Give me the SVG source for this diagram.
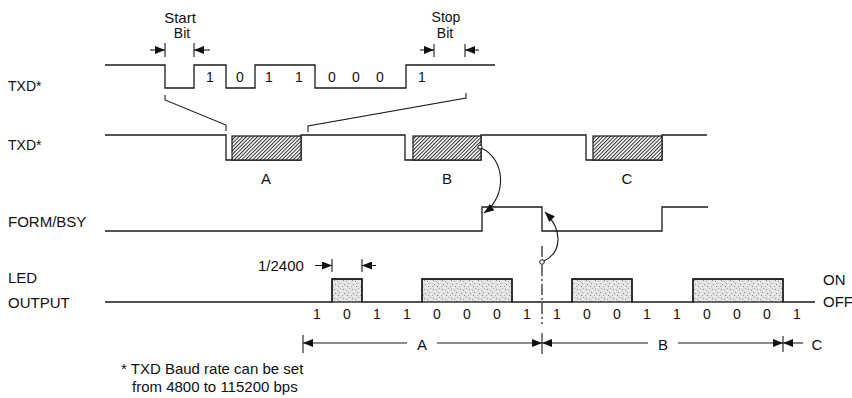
<svg xmlns="http://www.w3.org/2000/svg" width="852" height="398" viewBox="0 0 852 398">
<defs>
<style>
text{font-family:"Liberation Sans",Arial,sans-serif;fill:#111}
.lbl{font-size:15px}
.bit{font-size:14px;text-anchor:middle}
.mid{text-anchor:middle}
.w{fill:none;stroke:#1a1a1a;stroke-width:1.3}
.t{fill:none;stroke:#1a1a1a;stroke-width:1.1}
.a{fill:none;stroke:#1a1a1a;stroke-width:1.1;marker-end:url(#ah)}
.hatch{fill:url(#hp);stroke:#1a1a1a;stroke-width:1.2}
.spk{fill:url(#sp);stroke:#1a1a1a;stroke-width:1.3}
</style>
<marker id="ah" viewBox="0 0 10 8" refX="10" refY="4" markerWidth="10" markerHeight="8" markerUnits="userSpaceOnUse" orient="auto">
<path d="M0,0 L10,4 L0,8 z" fill="#111"/>
</marker>
<pattern id="hp" width="2.6" height="2.6" patternUnits="userSpaceOnUse" patternTransform="rotate(45)">
<rect width="2.6" height="2.6" fill="#fff"/>
<line x1="0.5" y1="0" x2="0.5" y2="2.6" stroke="#2a2a2a" stroke-width="1"/>
</pattern>
<pattern id="sp" width="9" height="9" patternUnits="userSpaceOnUse">
<rect width="9" height="9" fill="#e2e2e2"/>
<rect x="1" y="1" width="1" height="1" fill="#888"/>
<rect x="4" y="2" width="1" height="1" fill="#999"/>
<rect x="7" y="0" width="1" height="1" fill="#aaa"/>
<rect x="2" y="5" width="1" height="1" fill="#888"/>
<rect x="6" y="4" width="1" height="1" fill="#999"/>
<rect x="5" y="7" width="1" height="1" fill="#888"/>
<rect x="0" y="7" width="1" height="1" fill="#aaa"/>
<rect x="8" y="6" width="1" height="1" fill="#fff"/>
<rect x="3" y="8" width="1" height="1" fill="#fff"/>
<rect x="3" y="3" width="1" height="1" fill="#fff"/>
<rect x="7" y="2" width="1" height="1" fill="#fff"/>
</pattern>
</defs>
<rect width="852" height="398" fill="#fff"/>

<g id="txd-top">
<text style="font-size:14px" x="8" y="91">TXD*</text>
<path class="w" d="M105,65 H165 V88 H194 V65 H226 V88 H255 V65 H315 V88 H406 V65 H495"/>
<text class="bit" x="210" y="82">1</text>
<text class="bit" x="240" y="82">0</text>
<text class="bit" x="269" y="82">1</text>
<text class="bit" x="299" y="82">1</text>
<text class="bit" x="332" y="82">0</text>
<text class="bit" x="356" y="82">0</text>
<text class="bit" x="380" y="82">0</text>
<text class="bit" x="422" y="82">1</text>
</g>

<g id="start-bit">
<text class="mid" x="180" y="23" style="font-size:15px">Start</text>
<text class="mid" x="182" y="38" style="font-size:14px">Bit</text>
<line class="t" x1="165" y1="43" x2="165" y2="57"/>
<line class="t" x1="194" y1="43" x2="194" y2="57"/>
</g>

<g id="stop-bit">
<text class="mid" x="446" y="22" style="font-size:14px">Stop</text>
<text class="mid" x="445" y="38" style="font-size:14px">Bit</text>
<line class="t" x1="434" y1="44" x2="434" y2="57"/>
<line class="t" x1="465" y1="44" x2="465" y2="57"/>
</g>

<g id="txd-mid">
<text style="font-size:14px" x="8" y="150">TXD*</text>
<path class="w" d="M105,135 H226 V160 H301 V135 H405 V160 H481 V135 H586 V160 H662 V135 H707"/>
<rect class="hatch" x="232" y="136" width="69" height="24"/>
<rect class="hatch" x="413" y="136" width="68" height="24"/>
<rect class="hatch" x="593" y="136" width="69" height="24"/>
<text class="lbl mid" x="266" y="184">A</text>
<text class="lbl mid" x="447" y="184">B</text>
<text class="lbl mid" x="627" y="184">C</text>
</g>

<g id="form-bsy">
<text class="lbl" x="8" y="227">FORM/BSY</text>
<path class="w" d="M105,231 H482 V207 H542 V231 H662 V207 H708"/>
</g>

<g id="led-output">
<text class="lbl" x="8" y="283">LED</text>
<text class="lbl" x="8" y="308">OUTPUT</text>
<rect class="spk" x="332" y="279" width="30" height="23"/>
<rect class="spk" x="422" y="279" width="90" height="23"/>
<rect class="spk" x="572" y="279" width="60" height="23"/>
<rect class="spk" x="693" y="279" width="90" height="23"/>
<path class="w" d="M105,302 H332 V279 H362 V302 H422 V279 H512 V302 H572 V279 H632 V302 H693 V279 H783 V302 H815"/>
<text class="lbl" x="823" y="285">ON</text>
<text class="lbl" x="823" y="307">OFF</text>
<text class="lbl" x="258" y="271">1/2400</text>
<line class="t" x1="332" y1="259" x2="332" y2="272"/>
<line class="t" x1="362" y1="259" x2="362" y2="272"/>
<text class="bit" x="317" y="319">1</text>
<text class="bit" x="347" y="319">0</text>
<text class="bit" x="377" y="319">1</text>
<text class="bit" x="407" y="319">1</text>
<text class="bit" x="437" y="319">0</text>
<text class="bit" x="467" y="319">0</text>
<text class="bit" x="497" y="319">0</text>
<text class="bit" x="527" y="319">1</text>
<text class="bit" x="557" y="319">1</text>
<text class="bit" x="587" y="319">0</text>
<text class="bit" x="617" y="319">0</text>
<text class="bit" x="647" y="319">1</text>
<text class="bit" x="677" y="319">1</text>
<text class="bit" x="707" y="319">0</text>
<text class="bit" x="737" y="319">0</text>
<text class="bit" x="767" y="319">0</text>
<text class="bit" x="797" y="319">1</text>
</g>

<g id="dimensions">
<line class="t" x1="303" y1="335" x2="303" y2="353"/>
<line class="t" x1="542" y1="333" x2="542" y2="354"/>
<line class="t" x1="783" y1="336" x2="783" y2="352"/>
<text class="lbl mid" x="422" y="350">A</text>
<text class="lbl mid" x="663" y="350">B</text>
<text class="lbl mid" x="817" y="350">C</text>
</g>

<g id="footnote">
<text class="lbl" x="121" y="374">* TXD Baud rate can be set</text>
<text class="lbl" x="132" y="392">from 4800 to 115200 bps</text>
</g>

<g id="connectors">
<path class="t" d="M165,95 V100 L226,125 V131"/>
<path class="t" d="M466,93 V98 L308,126 V132"/>
<line class="a" x1="150" y1="50" x2="165" y2="50"/>
<line class="a" x1="210" y1="50" x2="194" y2="50"/>
<line class="a" x1="420" y1="50" x2="434" y2="50"/>
<line class="a" x1="479" y1="50" x2="465" y2="50"/>
<line class="a" x1="315" y1="265.5" x2="332" y2="265.5"/>
<line class="a" x1="376" y1="265.5" x2="362" y2="265.5"/>
<line class="a" x1="407" y1="343" x2="303" y2="343"/>
<line class="a" x1="437" y1="343" x2="542" y2="343"/>
<line class="a" x1="648" y1="343" x2="542" y2="343"/>
<line class="a" x1="678" y1="343" x2="783" y2="343"/>
<line class="a" x1="803" y1="343" x2="783" y2="343"/>
<line x1="542" y1="246" x2="542" y2="324" stroke="#1a1a1a" stroke-width="1.2" stroke-dasharray="11,3,2,3"/>
<path class="a" d="M481,148 C505,158 508,196 484,213"/>
<circle cx="480" cy="147" r="2" fill="#fff" stroke="#1a1a1a" stroke-width="1"/>
<path class="a" d="M544,261 C562,252 563,230 545,212"/>
<circle cx="542" cy="262" r="2.3" fill="#fff" stroke="#1a1a1a" stroke-width="1"/>
</g>
</svg>
